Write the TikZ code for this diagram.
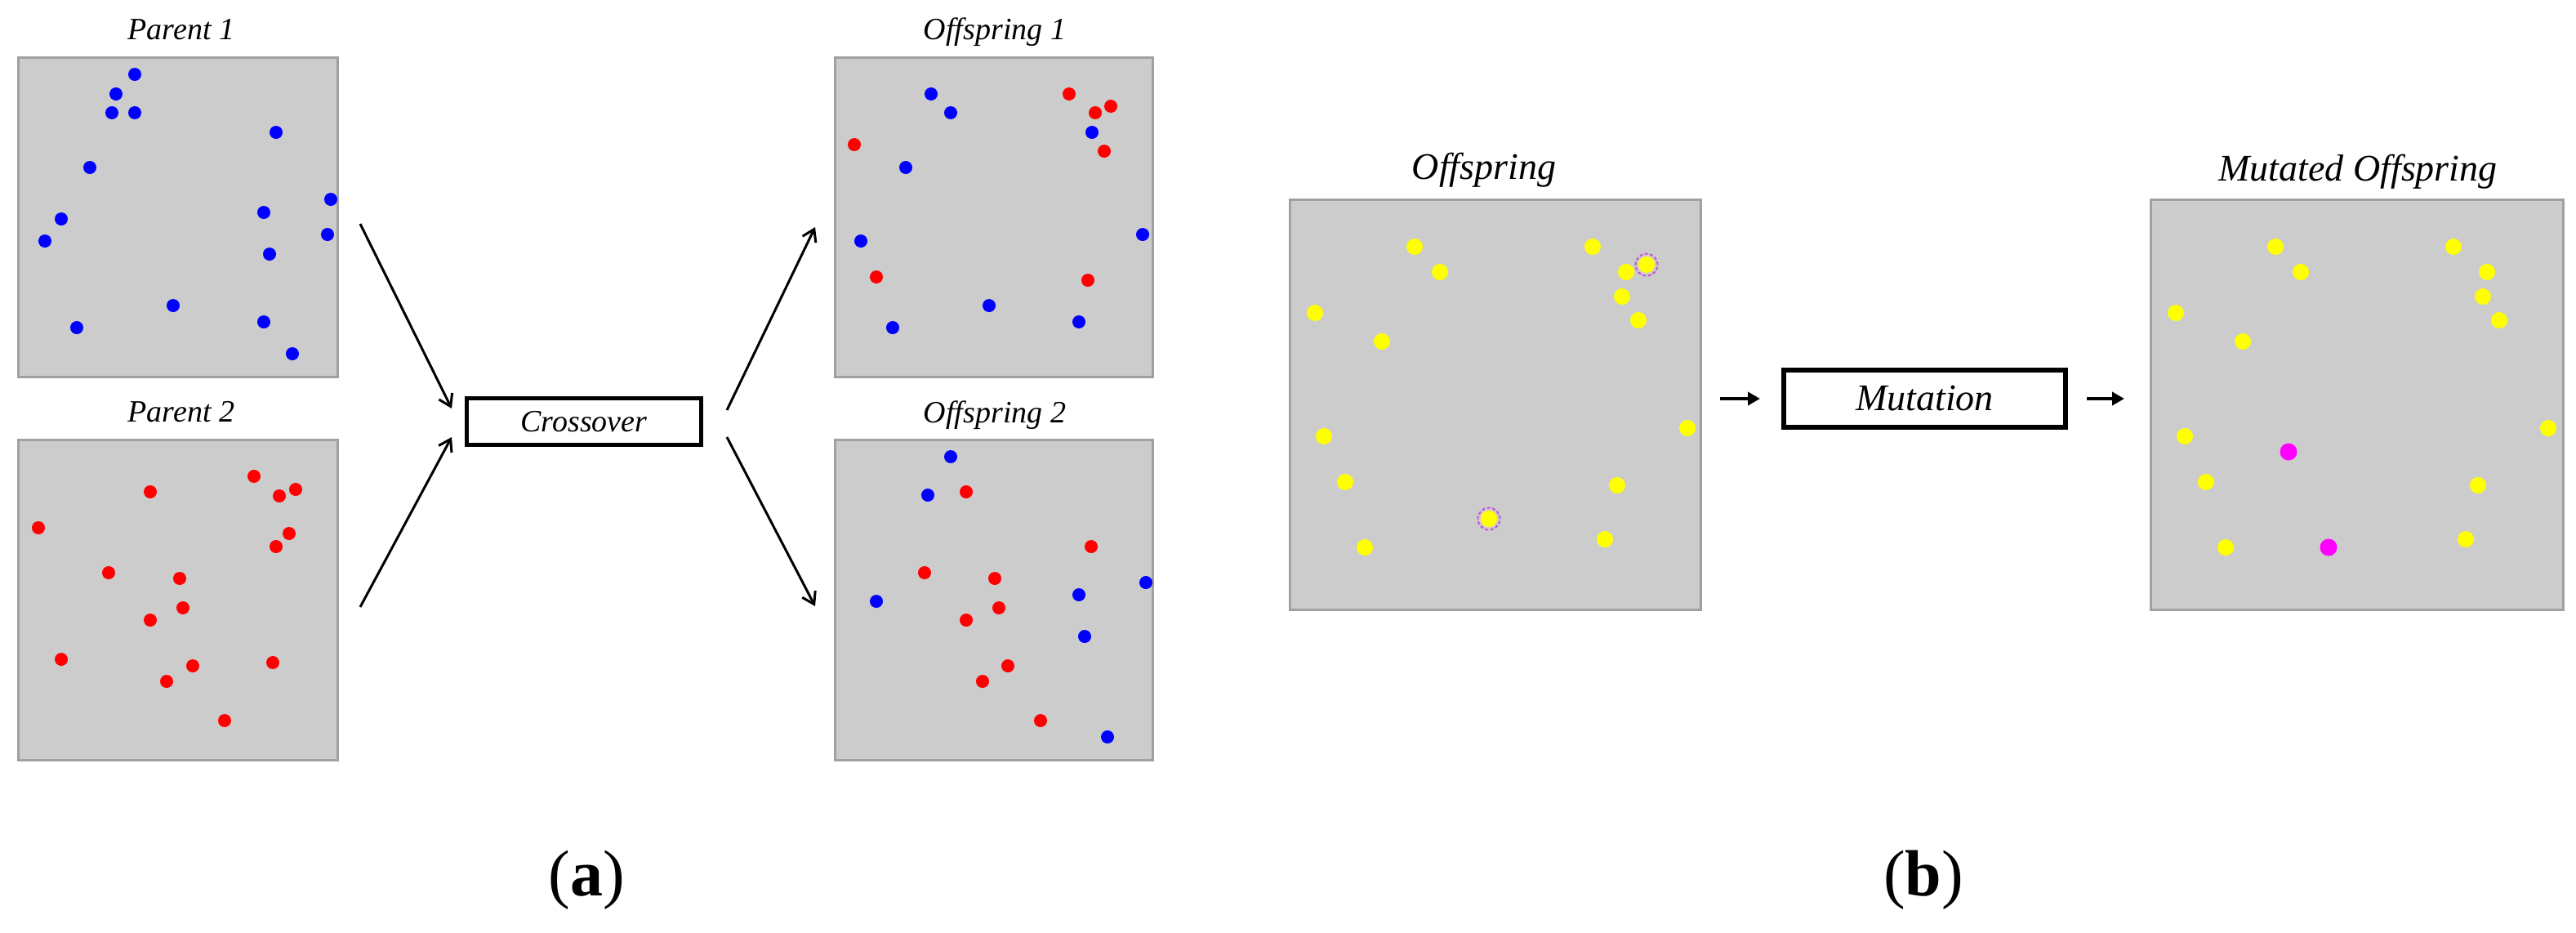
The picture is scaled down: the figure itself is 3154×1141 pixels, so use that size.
\documentclass[tikz,border=0pt]{standalone}
\usepackage{fontspec}
\setmainfont{Liberation Serif}
\usetikzlibrary{arrows.meta}
\definecolor{panelfill}{RGB}{204,204,204}
\definecolor{panelline}{RGB}{160,160,160}
\definecolor{ringcol}{RGB}{200,80,215}
\definecolor{dotblue}{RGB}{0,0,255}
\definecolor{dotred}{RGB}{255,0,0}
\definecolor{dotyellow}{RGB}{255,255,0}
\definecolor{dotmag}{RGB}{255,0,255}
\begin{document}
\begin{tikzpicture}[x=1pt,y=-1pt,
  panel/.style={draw=panelline, line width=3pt, fill=panelfill, inner sep=0pt, outer sep=0pt},
  titlea/.style={font=\fontsize{38}{44}\selectfont\itshape, inner sep=0pt},
  titleb/.style={font=\fontsize{46}{54}\selectfont\itshape, inner sep=0pt},
  procbox/.style={draw=black, fill=white, inner sep=0pt, outer sep=0pt},
  arra/.style={line width=3pt, -{Straight Barb[length=14pt,width=18pt]}},
  arrb/.style={line width=4pt, -{Triangle[length=15pt,width=16pt]}},
  ring/.style={draw=ringcol, line width=2pt, dash pattern=on 4pt off 2.5pt},
  sublabel/.style={font=\fontsize{80}{90}\selectfont, inner sep=0pt}
]
\useasboundingbox[fill=white] (0,0) rectangle (3154,1141);

% ---------- (a) panels ----------
\node[panel, minimum width=391pt, minimum height=391pt] (p1) at (218,266) {};
\node[panel, minimum width=391pt, minimum height=392pt] (p2) at (218,734.5) {};
\node[panel, minimum width=389pt, minimum height=391pt] (o1) at (1217,266) {};
\node[panel, minimum width=389pt, minimum height=392pt] (o2) at (1217,734.5) {};

\node[titlea, anchor=base] (tp1) at (222,48) {Parent 1};
\node[titlea, anchor=base] (tp2) at (222,516) {Parent 2};
\node[titlea, anchor=base] (to1) at (1218,48) {Offspring 1};
\node[titlea, anchor=base] (to2) at (1218,517) {Offspring 2};

% Parent 1 dots
\foreach \x/\y in {165/91,142/115,137/138,165/138,338/162,110/205,405/244,323/260,75/268,401/287,55/295,330/311,212/374,323/394,94/401,358/433}
  \fill[dotblue] (\x,\y) circle (8pt);
% Parent 2 dots
\foreach \x/\y in {311/583,184/602,362/599,342/607,47/646,354/653,338/669,133/701,220/708,224/744,184/759,75/807,334/811,236/815,204/834,275/882}
  \fill[dotred] (\x,\y) circle (8pt);
% Offspring 1 dots
\foreach \x/\y in {1140/115,1164/138,1337/162,1109/205,1399/287,1054/295,1211/374,1321/394,1093/401}
  \fill[dotblue] (\x,\y) circle (8pt);
\foreach \x/\y in {1309/115,1360/130,1341/138,1046/177,1352/185,1073/339,1332/343}
  \fill[dotred] (\x,\y) circle (8pt);
% Offspring 2 dots
\foreach \x/\y in {1164/559,1136/606,1403/713,1321/728,1073/736,1328/779,1356/902}
  \fill[dotblue] (\x,\y) circle (8pt);
\foreach \x/\y in {1183/602,1336/669,1132/701,1218/708,1223/744,1183/759,1234/815,1203/834,1274/882}
  \fill[dotred] (\x,\y) circle (8pt);

% Crossover
\node[procbox, line width=5pt, minimum width=287pt, minimum height=57pt, titlea] (cross) at (715,516) {Crossover};

\coordinate (a1s) at (441,274);
\coordinate (a1e) at (553,500);
\coordinate (a2s) at (441,743);
\coordinate (a2e) at (553,535);
\coordinate (a3s) at (890,502);
\coordinate (a3e) at (998,278);
\coordinate (a4s) at (890,535);
\coordinate (a4e) at (998,742);
\draw[arra] (a1s) -- (a1e);
\draw[arra] (a2s) -- (a2e);
\draw[arra] (a3s) -- (a3e);
\draw[arra] (a4s) -- (a4e);

% ---------- (b) panels ----------
\node[panel, minimum width=503pt, minimum height=502pt] (ob) at (1831,495.5) {};
\node[panel, minimum width=505pt, minimum height=502pt] (mo) at (2886,495.5) {};
\node[titleb, anchor=base] (tob) at (1817,219) {Offspring};
\node[titleb, anchor=base] (tmo) at (2887,221) {Mutated Offspring};

\foreach \x/\y in {1732/302,1950/302,1763/333,1991/333,1986/363,1610/383,2006/392,1692/418,2066/524,1621/534,1647/590,1980/594,1671/670,1965/660,2016/324,1823/635}
  \fill[dotyellow] (\x,\y) circle (10pt);
\draw[ring] (2016,324) circle (13.5pt);
\draw[ring] (1823,635) circle (13.5pt);

\foreach \x/\y in {1732/302,1950/302,1763/333,1991/333,1986/363,1610/383,2006/392,1692/418,2066/524,1621/534,1647/590,1980/594,1671/670,1965/660}
  \fill[dotyellow] ({\x+1054},\y) circle (10pt);
\fill[dotmag] (2802,553) circle (10.5pt);
\fill[dotmag] (2851,670) circle (10.5pt);

% Mutation
\node[procbox, line width=6pt, minimum width=345pt, minimum height=70pt, titleb] (mut) at (2356.5,488) {Mutation};
\coordinate (b1s) at (2106,488);
\coordinate (b1e) at (2155,488);
\coordinate (b2s) at (2555,488);
\coordinate (b2e) at (2601,488);
\draw[arrb] (b1s) -- (b1e);
\draw[arrb] (b2s) -- (b2e);

% sub labels
\node[sublabel] (la) at (718,1077) {(\textbf{a})};
\node[sublabel] (lb) at (2355,1077) {(\textbf{b})};
\end{tikzpicture}
\end{document}
